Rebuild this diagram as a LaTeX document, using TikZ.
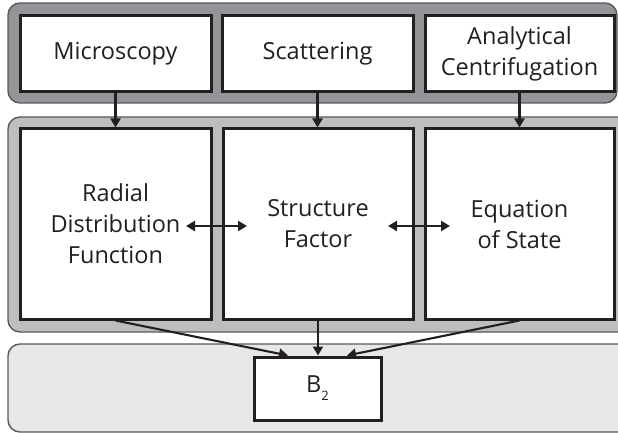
\documentclass[tikz,border=0pt]{standalone}
\usepackage{fontspec}
\setmainfont{Open Sans}
\usetikzlibrary{arrows.meta,calc}
\definecolor{bandDark}{HTML}{939598}
\definecolor{bandMid}{HTML}{BCBEC0}
\definecolor{bandLight}{HTML}{E6E7E8}
\definecolor{edgeGray}{HTML}{58595B}
\definecolor{ink}{HTML}{231F20}
\tikzset{
  band/.style={draw=edgeGray, line width=1.4pt, rounded corners=12pt},
  box/.style={draw=ink, fill=white, line width=3pt, inner sep=0pt,
    align=center, font=\fontsize{23.5}{31}\selectfont, text=ink},
  link/.style={draw=ink, line width=2.1pt, -{Triangle[length=9pt,width=10pt]}},
  twoway/.style={draw=ink, line width=2.1pt,
    {Triangle[length=9pt,width=10pt]}-{Triangle[length=9pt,width=10pt]}}
}
\begin{document}
\begin{tikzpicture}[x=1pt,y=-1pt]
\useasboundingbox (0,0) rectangle (618,433);
% three bands
\path[band, fill=bandDark] (8,3) rectangle (617,103);
\path[band, fill=bandMid] (8,117) rectangle (630,332);
\path[band, fill=bandLight] (8,344) rectangle (630,432);
% measurement boxes
\node[box, minimum width=191pt, minimum height=76pt] (micro) at (115.5,54) {Microscopy};
\node[box, minimum width=191pt, minimum height=76pt] (scat) at (317.5,54) {Scattering};
\node[box, minimum width=189pt, minimum height=76pt] (auc) at (519.5,54) {Analytical\\Centrifugation};
% derived quantities
\node[box, minimum width=191pt, minimum height=190pt] (rdf) at (115.5,224) {Radial\\Distribution\\Function};
\node[box, minimum width=190pt, minimum height=190pt] (sf) at (318,224) {Structure\\Factor};
\node[box, minimum width=189pt, minimum height=190pt] (eos) at (519.5,224) {Equation\\of State};
% second virial coefficient
\node[box, minimum width=127pt, minimum height=63pt] (b2) at (317.5,388.5)
  {B\raisebox{-8pt}{\fontsize{13}{13}\selectfont 2}};
% vertical arrows
\draw[link] (micro.south) -- (micro.south |- rdf.north);
\draw[link] (scat.south) -- (scat.south |- sf.north);
\draw[link] (auc.south) -- (auc.south |- eos.north);
% converging arrows
\coordinate (inL) at ($(b2.north)+(-29.5,0)$);
\coordinate (inR) at ($(b2.north)+(29.5,0)$);
\draw[link] (rdf.south) -- (inL);
\draw[link] (sf.south) -- (sf.south |- b2.north);
\draw[link] (eos.south) -- (inR);
% two-way arrows
\coordinate (a1) at (186,226);
\coordinate (a2) at (247,226);
\coordinate (a3) at (388,226);
\coordinate (a4) at (450,226);
\draw[twoway] (a1) -- (a2);
\draw[twoway] (a3) -- (a4);
\end{tikzpicture}
\end{document}
